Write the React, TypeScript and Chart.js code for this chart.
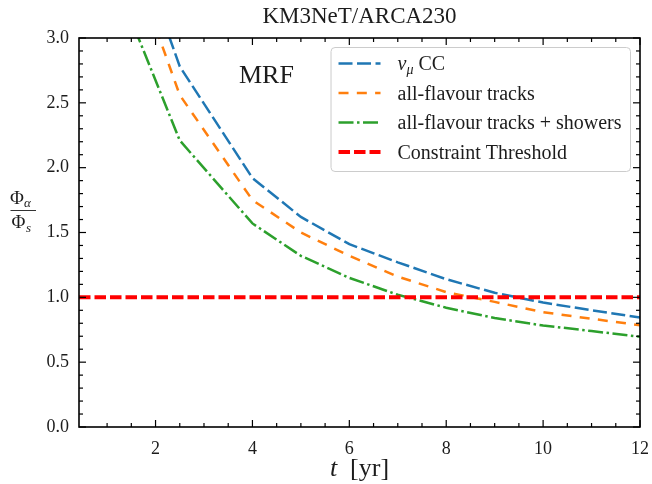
import React, { useEffect, useRef } from 'react';
import { Chart, registerables } from 'chart.js';

Chart.register(...registerables);

// ---- data ----
const X_MIN = 0.42;
const X_MAX = 12;
const Y_MIN = 0;
const Y_MAX = 3;

const years = [1, 2.5, 4, 5, 6, 7, 8, 9, 10, 11, 12];
const numuCC = [4.36, 2.78, 1.92, 1.62, 1.41, 1.27, 1.14, 1.035, 0.96, 0.9, 0.845];
const allFlavourTracks = [4.13, 2.56, 1.75, 1.5, 1.32, 1.16, 1.04, 0.965, 0.885, 0.835, 0.785];
const tracksPlusShowers = [3.6, 2.21, 1.57, 1.32, 1.15, 1.02, 0.92, 0.84, 0.783, 0.74, 0.696];
const thresholdYears = [X_MIN, X_MAX];
const thresholdValues = [1.0, 1.0];

const xMajorTicks = [2, 4, 6, 8, 10, 12];
const yMajorTicks = [0, 0.5, 1, 1.5, 2, 2.5, 3];
const X_MINOR_STEP = 0.5;
const Y_MINOR_STEP = 0.1;

const seriesLabels = ['ν_μ CC', 'all-flavour tracks', 'all-flavour tracks + showers', 'Constraint Threshold'];
const titleText = 'KM3NeT/ARCA230';
const panelText = 'MRF';

// ---- styles ----
const SERIF = '"Liberation Serif", "Times New Roman", serif';
const TEXT = '#1c1c1c';

const toPoints = (xs: number[], ys: number[]) => xs.map((x, i) => ({ x, y: ys[i] }));

function drawRichLabel(ctx: CanvasRenderingContext2D, label: string, x: number, y: number, size: number) {
  ctx.textBaseline = 'alphabetic';
  ctx.textAlign = 'left';
  let cx = x;
  const tokens = label.split(' ');
  tokens.forEach((tok, idx) => {
    if (idx > 0) {
      ctx.font = `${size}px ${SERIF}`;
      ctx.fillText(' ', cx, y);
      cx += ctx.measureText(' ').width;
    }
    if (tok.includes('_')) {
      const [base, sub] = tok.split('_');
      ctx.font = `italic ${size}px ${SERIF}`;
      ctx.fillText(base, cx, y);
      cx += ctx.measureText(base).width;
      ctx.font = `italic ${Math.round(size * 0.7)}px ${SERIF}`;
      ctx.fillText(sub, cx, y + size * 0.22);
      cx += ctx.measureText(sub).width;
    } else {
      ctx.font = `${size}px ${SERIF}`;
      ctx.fillText(tok, cx, y);
      cx += ctx.measureText(tok).width;
    }
  });
  return cx - x;
}

const decorPlugin = {
  id: 'decor',
  afterDraw(chart: any) {
    const { ctx, chartArea: a, scales } = chart;
    const xs = scales.x;
    const ys = scales.y;
    ctx.save();

    // inward ticks on all four sides
    ctx.strokeStyle = '#000';
    ctx.lineWidth = 1.2;
    const seg = (x1: number, y1: number, x2: number, y2: number) => {
      ctx.beginPath();
      ctx.moveTo(x1, y1);
      ctx.lineTo(x2, y2);
      ctx.stroke();
    };
    const xTick = (v: number, len: number) => {
      const p = xs.getPixelForValue(v);
      seg(p, a.bottom, p, a.bottom - len);
      seg(p, a.top, p, a.top + len);
    };
    const yTick = (v: number, len: number) => {
      const p = ys.getPixelForValue(v);
      seg(a.left, p, a.left + len, p);
      seg(a.right, p, a.right - len, p);
    };
    for (let v = 1; v < X_MAX - 1e-9; v += X_MINOR_STEP) {
      if (!xMajorTicks.some((m) => Math.abs(m - v) < 1e-6)) xTick(v, 4);
    }
    xMajorTicks.forEach((v) => xTick(v, 7));
    for (let v = Y_MIN + Y_MINOR_STEP; v < Y_MAX - 1e-9; v += Y_MINOR_STEP) {
      if (!yMajorTicks.some((m) => Math.abs(m - v) < 1e-6)) yTick(v, 4);
    }
    yMajorTicks.forEach((v) => yTick(v, 7));

    // frame
    ctx.lineWidth = 1.6;
    ctx.strokeRect(a.left, a.top, a.right - a.left, a.bottom - a.top);

    ctx.fillStyle = TEXT;
    // title
    ctx.font = `23px ${SERIF}`;
    ctx.textAlign = 'center';
    ctx.textBaseline = 'alphabetic';
    ctx.fillText(titleText, (a.left + a.right) / 2, 23);

    // panel label
    ctx.font = `26px ${SERIF}`;
    ctx.textAlign = 'left';
    ctx.fillText(panelText, a.left + 160, a.top + 45);

    // x-axis title: t [yr]
    ctx.font = `italic 26px ${SERIF}`;
    const tW = ctx.measureText('t').width;
    ctx.font = `26px ${SERIF}`;
    const rest = '  [yr]';
    const restW = ctx.measureText(rest).width;
    const cx = (a.left + a.right) / 2;
    const sx = cx - (tW + restW) / 2;
    ctx.font = `italic 26px ${SERIF}`;
    ctx.fillText('t', sx, 476);
    ctx.font = `26px ${SERIF}`;
    ctx.fillText(rest, sx + tW, 476);

    // y-axis title: Φ_α / Φ_s
    ctx.font = `19px ${SERIF}`;
    ctx.fillText('Φ', 10, 203.5);
    const phiW = ctx.measureText('Φ').width;
    ctx.font = `italic 13px ${SERIF}`;
    ctx.fillText('α', 10 + phiW, 206.5);
    ctx.font = `19px ${SERIF}`;
    ctx.fillText('Φ', 11.5, 227.5);
    ctx.font = `italic 13px ${SERIF}`;
    ctx.fillText('s', 11.5 + phiW + 0.5, 231.5);
    ctx.strokeStyle = TEXT;
    ctx.lineWidth = 0.9;
    seg(10.5, 210.5, 36, 210.5);

    // legend
    const dsets = chart.data.datasets;
    const fs = 20;
    let maxW = 0;
    dsets.forEach((d: any) => {
      ctx.font = `${fs}px ${SERIF}`;
      maxW = Math.max(maxW, ctx.measureText(d.label.replace('_', '')).width);
    });
    const boxW = 66.5 + maxW + 9;
    const boxH = 124;
    const bx = a.right - 9.5 - boxW;
    const by = a.top + 9.5;
    ctx.beginPath();
    ctx.roundRect(bx, by, boxW, boxH, 4);
    ctx.fillStyle = 'rgba(255,255,255,0.85)';
    ctx.fill();
    ctx.strokeStyle = '#cccccc';
    ctx.lineWidth = 1;
    ctx.stroke();
    dsets.forEach((d: any, i: number) => {
      const ry = by + 16 + i * 29.5;
      ctx.strokeStyle = d.borderColor;
      ctx.lineWidth = d.borderWidth;
      ctx.setLineDash(d.borderDash || []);
      ctx.beginPath();
      ctx.moveTo(bx + 7.5, ry);
      ctx.lineTo(bx + 49.5, ry);
      ctx.stroke();
      ctx.setLineDash([]);
      ctx.fillStyle = TEXT;
      drawRichLabel(ctx, d.label, bx + 66.5, ry + 6.5, fs);
    });

    ctx.restore();
  },
};

export default function App() {
  const ref = useRef<HTMLCanvasElement>(null);
  useEffect(() => {
    document.body.style.margin = '0';
    const canvas = ref.current;
    if (!canvas) return;
    const chart = new Chart(canvas, {
      type: 'line',
      data: {
        datasets: [
          {
            label: seriesLabels[0],
            data: toPoints(years, numuCC),
            borderColor: '#1f77b4',
            borderWidth: 2.5,
            borderDash: [14, 4.5],
            pointRadius: 0,
            fill: false,
            order: 3,
            clip: 0,
          },
          {
            label: seriesLabels[1],
            data: toPoints(years, allFlavourTracks),
            borderColor: '#ff7f0e',
            borderWidth: 2.5,
            borderDash: [10, 8.3],
            pointRadius: 0,
            fill: false,
            order: 2,
            clip: 0,
          },
          {
            label: seriesLabels[2],
            data: toPoints(years, tracksPlusShowers),
            borderColor: '#2ca02c',
            borderWidth: 2.5,
            borderDash: [15, 3.5, 2.5, 3.5],
            pointRadius: 0,
            fill: false,
            order: 1,
            clip: 0,
          },
          {
            label: seriesLabels[3],
            data: toPoints(thresholdYears, thresholdValues),
            borderColor: '#ff0000',
            borderWidth: 4,
            borderDash: [11.5, 4],
            pointRadius: 0,
            fill: false,
            order: 0,
            clip: 0,
          },
        ],
      } as any,
      options: {
        animation: false,
        responsive: false,
        layout: { padding: { top: 38, right: 12, left: 0, bottom: 0 } },
        plugins: {
          legend: { display: false },
          title: { display: false },
          tooltip: { enabled: false },
        },
        elements: { line: { tension: 0 }, point: { radius: 0 } },
        scales: {
          x: {
            type: 'linear',
            min: X_MIN,
            max: X_MAX,
            grid: { display: false, drawTicks: false },
            border: { display: false },
            afterBuildTicks: (s: any) => {
              s.ticks = xMajorTicks.map((v) => ({ value: v }));
            },
            afterFit: (s: any) => {
              s.height = 57;
              s.paddingLeft = 0;
              s.paddingRight = 0;
            },
            ticks: {
              font: { family: SERIF, size: 18 },
              color: TEXT,
              padding: 11,
              maxRotation: 0,
              autoSkip: false,
              callback: (v: any) => String(v),
            },
          },
          y: {
            type: 'linear',
            min: Y_MIN,
            max: Y_MAX,
            grid: { display: false, drawTicks: false },
            border: { display: false },
            afterBuildTicks: (s: any) => {
              s.ticks = yMajorTicks.map((v) => ({ value: v }));
            },
            afterFit: (s: any) => {
              s.width = 79;
              s.paddingTop = 0;
              s.paddingBottom = 0;
            },
            ticks: {
              font: { family: SERIF, size: 18 },
              color: TEXT,
              padding: 10,
              autoSkip: false,
              callback: (v: any) => Number(v).toFixed(1),
            },
          },
        },
      } as any,
      plugins: [decorPlugin],
    });
    return () => chart.destroy();
  }, []);
  return (
    <div style={{ width: 652, height: 484 }}>
      <canvas ref={ref} width={652} height={484} style={{ display: 'block', width: 652, height: 484 }} />
    </div>
  );
}
